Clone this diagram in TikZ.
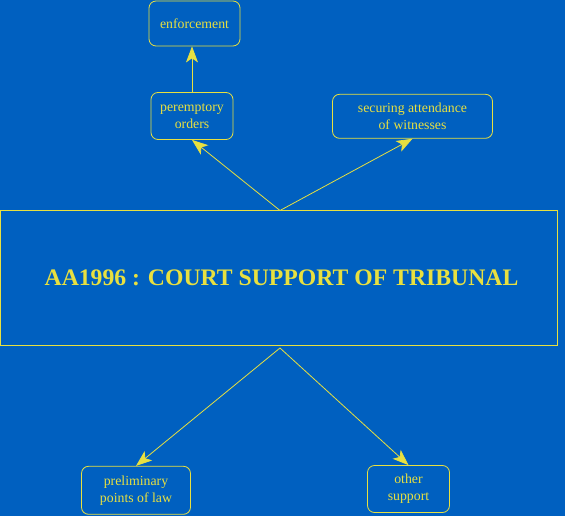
\documentclass[tikz,border=0pt]{standalone}
\usepackage{fontspec}
\setmainfont{Liberation Serif}
\usetikzlibrary{arrows.meta}
\definecolor{bgblue}{RGB}{0,96,192}
\definecolor{lineyellow}{RGB}{232,224,64}
\tikzset{
    topic/.style={
        draw=lineyellow,
        rounded corners=7pt,
        align=center,
        text=lineyellow,
        inner sep=0pt,
        font=\fontsize{13.8}{17}\selectfont
    },
    every edge/.style={
        draw=lineyellow,
        -{Stealth[length=16pt, width=12pt, inset=4pt]},
        line width=0.8pt
    }
}

\begin{document}
\begin{tikzpicture}[x=1pt, y=-1pt, line width=0.8pt]
    \fill[bgblue] (0,0) rectangle (565,516);
    \useasboundingbox (0,0) rectangle (565,516);
    % Nodes
    \node[topic, minimum width=91pt, minimum height=45pt] (enf) at (194.5,23.5) {enforcement};
    \node[topic, minimum width=82pt, minimum height=47pt] (perem) at (192,116) {peremptory\\orders};
    \node[topic, minimum width=160pt, minimum height=44pt] (witn) at (412.5,116.3) {securing attendance\\of witnesses};
    \node[draw=lineyellow, minimum width=557pt, minimum height=135pt, text=lineyellow,
          font=\bfseries\fontsize{23.7}{28}\selectfont] (main) at (279,278) {\hspace{5pt}AA1996 : COURT SUPPORT OF TRIBUNAL};
    \node[topic, minimum width=109pt, minimum height=48pt] (prelim) at (136,490.3) {preliminary\\points of law};
    \node[topic, minimum width=82pt, minimum height=47pt] (other) at (408.5,489) {other\\support};
    \coordinate (top) at (280,210.5);
    \coordinate (bot) at (280,348);

    % Edges
    \draw (perem.north) edge (perem.north |- enf.south);
    \draw (top) edge (perem.south);
    \draw (top) edge (witn.south);
    \draw (bot) edge (prelim.north);
    \draw (bot) edge (other.north);
\end{tikzpicture}
\end{document}
